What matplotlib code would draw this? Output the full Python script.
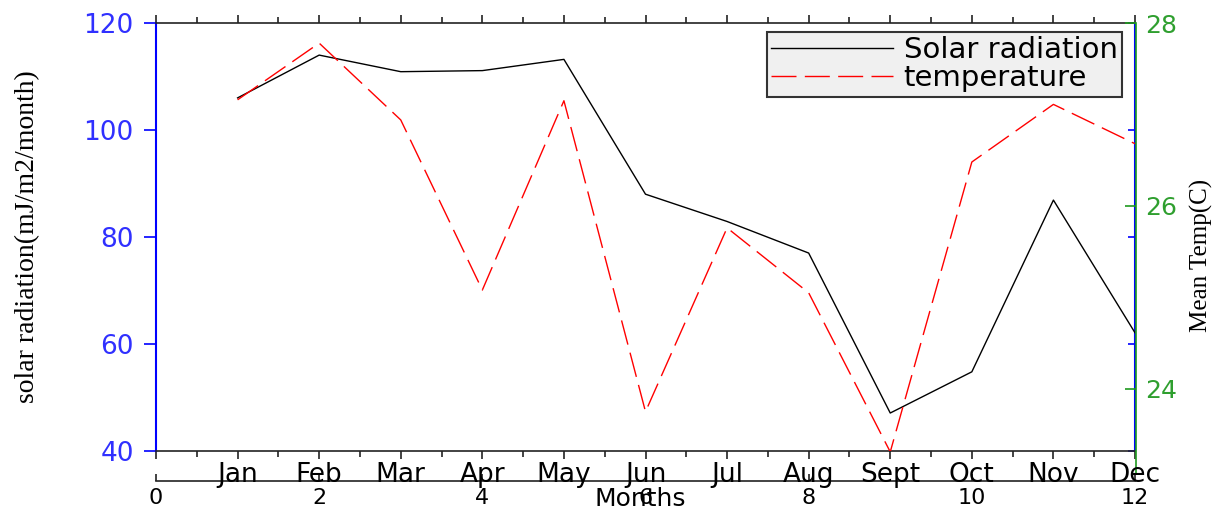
import numpy as np
import matplotlib
matplotlib.use('Agg')
import matplotlib.pyplot as plt
from matplotlib.ticker import MultipleLocator

# data
month_pos = [1, 2, 3, 4, 5, 6, 7, 8, 9, 10, 11, 12]
month_names = ['Jan', 'Feb', 'Mar', 'Apr', 'May', 'Jun', 'Jul', 'Aug', 'Sept', 'Oct', 'Nov', 'Dec']
solar = [106.0, 114.0, 110.9, 111.1, 113.2, 88.0, 82.9, 77.0, 47.1, 54.8, 86.9, 62.1]
temp = [27.16, 27.78, 26.94, 25.08, 27.15, 23.75, 25.76, 25.05, 23.31, 26.48, 27.11, 26.68]
solar_ticks = [40, 60, 80, 100, 120]
temp_ticks = [24, 26, 28]
num_ticks = [0, 2, 4, 6, 8, 10, 12]

BLUE = '#0000ff'
BLUE_TXT = '#3030ff'
GREEN = '#1f9a1f'
GREEN_TXT = '#2f9f2f'

plt.rcParams['font.family'] = ['DejaVu Sans']

fig = plt.figure(figsize=(12.13, 5.11), dpi=100)
L, R, B, T = 156/1213, 1135/1213, 1 - 451/511, 1 - 23/511
ax = fig.add_axes([L, B, R - L, T - B])

ln1, = ax.plot(month_pos, solar, color='black', lw=1.0, label='Solar radiation')
ax.set_xlim(0, 12)
ax.set_ylim(40, 120)
ax.set_yticks(solar_ticks)
ax.xaxis.set_major_locator(MultipleLocator(1))
ax.xaxis.set_minor_locator(MultipleLocator(0.5))
ax.tick_params(axis='x', which='both', direction='out', top=True, bottom=True,
               labelbottom=False, color='#222222')
ax.tick_params(axis='x', which='major', length=6, width=1.2)
ax.tick_params(axis='x', which='minor', length=4, width=1.2)
ax.tick_params(axis='y', direction='out', length=9, width=1.2, color=BLUE,
               labelcolor=BLUE_TXT, labelsize=19, pad=7)
ax.spines['left'].set_color(BLUE)
ax.spines['left'].set_linewidth(1.5)
ax.spines['right'].set_visible(False)
for s in ['top', 'bottom']:
    ax.spines[s].set_color('#222222')
    ax.spines[s].set_linewidth(1.2)

# blue right spine with inward ticks at the solar scale
sec = ax.secondary_yaxis('right')
sec.set_yticks(solar_ticks)
sec.tick_params(direction='in', length=5, width=1.2, color=BLUE, labelright=False)
sec.spines['right'].set_color(BLUE)
sec.spines['right'].set_linewidth(1.5)

# temperature on the green right axis
ax_r = ax.twinx()
ln2, = ax_r.plot(month_pos, temp, color='red', lw=1.0, ls=(0, (18, 6)), label='temperature')
ax_r.set_ylim(23.32, 28)
ax_r.set_yticks(temp_ticks)
ax_r.tick_params(axis='y', direction='in', length=8, width=1.2, color=GREEN,
                 labelcolor=GREEN_TXT, labelsize=18, pad=6)
for s in ['left', 'top', 'bottom']:
    ax_r.spines[s].set_visible(False)
ax_r.spines['right'].set_color(GREEN)
ax_r.spines['right'].set_linewidth(1.2)
ax_r.spines['right'].set_position(('outward', 1))
ax_r.spines['right'].set_bounds(23.07, 28)

leg = ax_r.legend([ln1, ln2], ['Solar radiation', 'temperature'],
                  loc='upper right', bbox_to_anchor=(0.9867, 0.979),
                  borderaxespad=0, fontsize=21, handlelength=4.2,
                  handletextpad=0.35, labelspacing=0.0, borderpad=0.15,
                  fancybox=False, framealpha=1, facecolor='#f0f0f0',
                  edgecolor='#333333')
leg.get_frame().set_linewidth(1.5)

# lower strip: numeric scale below, month names above
ax2 = fig.add_axes([L, 1 - 481/511, R - L, 0.0001])
ax2.set_xlim(0, 12)
ax2.set_yticks([])
ax2.set_xticks(num_ticks)
ax2.tick_params(axis='x', direction='in', length=5, width=1.2, labelsize=16, pad=5,
                color='#222222')
for s in ['left', 'right', 'top']:
    ax2.spines[s].set_visible(False)
ax2.spines['bottom'].set_color('#222222')
ax2.spines['bottom'].set_linewidth(1.2)
ax2.patch.set_visible(False)

ax3 = ax2.twiny()
ax3.set_xlim(0, 12)
ax3.set_xticks(month_pos)
ax3.set_xticklabels(month_names)
ax3.tick_params(axis='x', length=0, labelsize=19, pad=-5)
for s in ax3.spines.values():
    s.set_visible(False)

fig.text(640/1213, 1 - 506/511, 'Months', fontsize=18, ha='center', va='baseline')
fig.text(28/1213, 1 - 237/511, 'solar radiation(mJ/m2/month)', rotation=90,
         fontsize=20, family='Liberation Serif', ha='center', va='center')
fig.text(1201/1213, 1 - 255/511, 'Mean Temp(C)', rotation=90,
         fontsize=18, family='Liberation Serif', ha='center', va='center')

fig.savefig('out.png', dpi=100)
